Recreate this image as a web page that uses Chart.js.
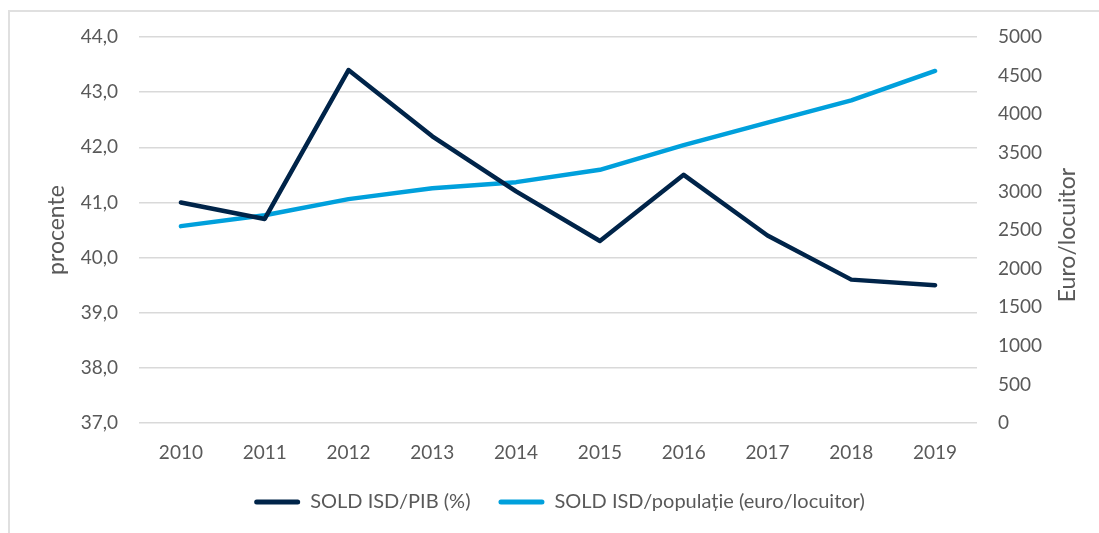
<!DOCTYPE html>
<html>
<head>
<meta charset="utf-8">
<script src="https://cdn.jsdelivr.net/npm/chart.js@4.4.1/dist/chart.umd.min.js"></script>
<style>
  html, body { margin: 0; padding: 0; background: #ffffff; }
  #wrap { position: relative; width: 1099px; height: 533px; overflow: hidden; }
  #frame { position: absolute; left: 8px; top: 10px; width: 1200px; height: 600px;
           border-left: 2px solid #e0e0e0; border-top: 2px solid #e0e0e0; }
  canvas { position: absolute; left: 0; top: 0; }
</style>
</head>
<body>
<div id="wrap">
  <div id="frame"></div>
  <canvas id="c" width="1099" height="533"></canvas>
</div>
<script>
const years = ['2010','2011','2012','2013','2014','2015','2016','2017','2018','2019'];
const soldPib = [41.0, 40.7, 43.4, 42.2, 41.2, 40.3, 41.5, 40.4, 39.6, 39.5];
const soldPop = [2550, 2690, 2900, 3040, 3120, 3280, 3600, 3890, 4180, 4560];
const leftTicks = [37, 38, 39, 40, 41, 42, 43, 44];
const rightTicks = [0, 500, 1000, 1500, 2000, 2500, 3000, 3500, 4000, 4500, 5000];
const seriesNames = ['SOLD ISD/PIB (%)', 'SOLD ISD/populație (euro/locuitor)'];
const axisTitles = ['procente', 'Euro/locuitor'];

const DARK = '#002449';
const LIGHT = '#00a0dc';
const TXT = '#595959';
const FONT = 'Lato, "Open Sans", sans-serif';

// right axis title reads bottom-to-top, as in the reference
const rightTitlePlugin = {
  id: 'rightTitle',
  afterDraw(chart) {
    const s = chart.scales.y2;
    const ctx = chart.ctx;
    ctx.save();
    ctx.font = '23px ' + FONT;
    ctx.fillStyle = TXT;
    ctx.textAlign = 'center';
    ctx.textBaseline = 'middle';
    ctx.translate(s.right - 11, (s.top + s.bottom) / 2 + 5);
    ctx.rotate(-Math.PI / 2);
    ctx.fillText(axisTitles[1], 0, 0);
    ctx.restore();
  }
};

new Chart(document.getElementById('c'), {
  type: 'line',
  data: {
    labels: years,
    datasets: [
      { label: seriesNames[0], data: soldPib, yAxisID: 'y', borderColor: DARK, backgroundColor: DARK,
        borderWidth: 4.5, pointRadius: 0, borderCapStyle: 'round', borderJoinStyle: 'round', tension: 0 },
      { label: seriesNames[1], data: soldPop, yAxisID: 'y2', borderColor: LIGHT, backgroundColor: LIGHT,
        borderWidth: 4.5, pointRadius: 0, borderCapStyle: 'round', borderJoinStyle: 'round', tension: 0 }
    ]
  },
  options: {
    responsive: false,
    animation: false,
    devicePixelRatio: 1,
    layout: { padding: { left: 40, right: 20, top: 37, bottom: 11 } },
    plugins: {
      tooltip: { enabled: false },
      legend: {
        position: 'bottom',
        labels: {
          font: { family: FONT, size: 20 },
          color: TXT,
          boxWidth: 46,
          boxHeight: 5,
          padding: 28,
          generateLabels(chart) {
            return chart.data.datasets.map((d, i) => ({
              text: d.label, fillStyle: d.borderColor, strokeStyle: d.borderColor,
              lineWidth: 0, hidden: false, datasetIndex: i, borderRadius: 2.5, fontColor: TXT
            }));
          }
        }
      }
    },
    scales: {
      x: {
        offset: true,
        grid: { display: false, drawTicks: false },
        border: { display: false },
        ticks: { font: { family: FONT, size: 19 }, color: TXT, padding: 18 },
        afterFit(s) { s.height = 41; }
      },
      y: {
        position: 'left',
        min: leftTicks[0], max: leftTicks[leftTicks.length - 1],
        afterBuildTicks(s) { s.ticks = leftTicks.map(v => ({ value: v })); },
        grid: { color: '#d9d9d9', lineWidth: 1.5, drawTicks: false },
        border: { display: false },
        ticks: { font: { family: FONT, size: 19 }, color: TXT, padding: 21,
                 callback: v => v.toFixed(1).replace('.', ',') },
        title: { display: true, text: axisTitles[0], font: { family: FONT, size: 23 }, color: TXT,
                 padding: { top: 3, bottom: 0 } },
        afterFit(s) { s.width = 99; }
      },
      y2: {
        position: 'right',
        min: rightTicks[0], max: rightTicks[rightTicks.length - 1],
        afterBuildTicks(s) { s.ticks = rightTicks.map(v => ({ value: v })); },
        grid: { display: false, drawTicks: false },
        border: { display: false },
        ticks: { font: { family: FONT, size: 19 }, color: TXT, padding: 21,
                 callback: v => String(v) },
        afterFit(s) { s.width = 102; }
      }
    }
  },
  plugins: [rightTitlePlugin]
});
</script>
</body>
</html>
